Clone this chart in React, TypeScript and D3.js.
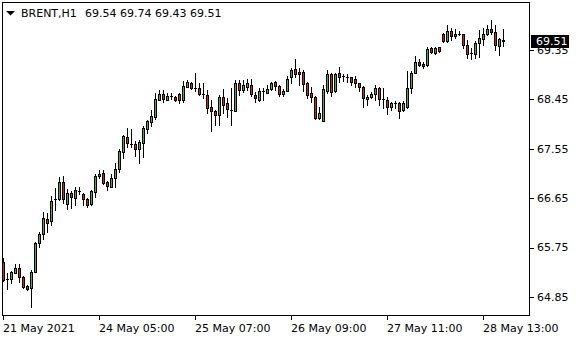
import React from "react";
import * as d3 from "d3";

const symbol = "BRENT,H1";
const opens = [65.48,65.18,65.18,65.29,65.38,65.21,65.05,65.01,65.31,65.83,66.00,66.27,66.23,66.64,66.64,66.95,66.54,66.74,66.65,66.78,66.73,66.64,66.54,66.76,67.05,67.11,66.94,66.86,67.01,67.18,67.49,67.77,67.64,67.63,67.54,67.65,67.91,68.04,68.13,68.44,68.54,68.44,68.52,68.50,68.54,68.44,68.68,68.74,68.65,68.65,68.54,68.53,68.31,68.24,68.17,68.49,68.38,68.26,68.24,68.74,68.63,68.68,68.72,68.53,68.44,68.60,68.57,68.64,68.76,68.69,68.54,68.61,68.85,69.00,68.95,68.95,68.74,68.56,68.50,68.12,68.06,68.60,68.91,68.60,68.93,68.88,68.86,68.85,68.83,68.74,68.68,68.45,68.50,68.54,68.66,68.46,68.44,68.32,68.39,68.39,68.26,68.32,68.66,68.94,69.14,69.09,69.08,69.38,69.29,69.40,69.65,69.51,69.70,69.61,69.65,69.64,69.45,69.29,69.27,69.47,69.55,69.65,69.73,69.68,69.43,69.54];
const highs = [65.56,65.29,65.32,65.45,65.45,65.23,65.07,65.34,65.86,66.04,66.39,66.38,66.69,66.84,67.04,67.05,66.82,66.79,66.86,66.86,66.75,66.65,66.80,67.09,67.16,67.16,66.97,67.09,67.29,67.54,67.80,67.92,67.91,67.70,67.71,67.97,68.07,68.26,68.56,68.63,68.62,68.56,68.56,68.51,68.56,68.79,68.80,68.76,68.94,68.74,68.75,68.62,68.44,68.26,68.53,68.64,68.48,68.65,68.80,68.80,68.80,68.83,68.83,68.59,68.66,68.66,68.72,68.77,68.79,68.72,68.64,68.88,69.02,69.19,69.02,68.99,68.76,68.68,68.52,68.31,68.72,68.99,68.93,68.93,69.04,68.91,68.91,68.86,68.88,68.75,68.70,68.53,68.58,68.71,68.68,68.65,68.50,68.41,68.42,68.41,68.42,68.97,68.97,69.24,69.19,69.14,69.41,69.40,69.40,69.41,69.66,69.81,69.75,69.73,69.70,69.65,69.53,69.38,69.51,69.71,69.75,69.81,69.90,69.81,69.56,69.74];
const lows = [65.14,65.00,65.11,65.28,65.12,65.01,64.98,64.67,65.30,65.76,65.91,66.03,66.16,66.43,66.62,66.56,66.45,66.47,66.53,66.73,66.53,66.49,66.53,66.68,67.02,66.91,66.80,66.85,66.86,67.13,67.39,67.59,67.59,67.42,67.29,67.40,67.84,67.97,68.09,68.43,68.40,68.43,68.46,68.42,68.38,68.40,68.67,68.64,68.61,68.53,68.47,68.20,67.87,67.98,67.98,68.20,68.13,67.98,68.23,68.53,68.58,68.62,68.51,68.41,68.42,68.44,68.56,68.63,68.63,68.52,68.51,68.60,68.74,68.86,68.72,68.60,68.48,68.41,68.09,68.09,68.05,68.57,68.52,68.58,68.77,68.79,68.76,68.72,68.67,68.61,68.32,68.34,68.47,68.44,68.34,68.30,68.18,68.26,68.29,68.12,68.23,68.30,68.56,68.93,69.05,69.02,69.06,69.30,69.28,69.32,69.50,69.50,69.53,69.57,69.62,69.38,69.20,69.18,69.20,69.23,69.44,69.62,69.64,69.35,69.26,69.43];
const closes = [65.16,65.17,65.31,65.38,65.21,65.03,65.00,65.31,65.84,66.00,66.29,66.20,66.60,66.64,66.95,66.64,66.74,66.67,66.80,66.78,66.64,66.53,66.78,67.05,67.09,66.93,66.88,67.01,67.19,67.51,67.79,67.65,67.64,67.55,67.67,67.92,68.06,68.15,68.45,68.54,68.46,68.52,68.52,68.43,68.44,68.69,68.76,68.66,68.65,68.54,68.54,68.29,68.23,68.17,68.49,68.35,68.27,68.26,68.74,68.63,68.71,68.74,68.54,68.47,68.60,68.60,68.64,68.75,68.70,68.54,68.60,68.83,68.99,68.91,68.91,68.73,68.53,68.49,68.12,68.21,68.64,68.91,68.59,68.91,68.86,68.88,68.86,68.77,68.74,68.68,68.47,68.50,68.55,68.66,68.45,68.46,68.32,68.38,68.39,68.24,68.38,68.66,68.93,69.13,69.08,69.06,69.37,69.31,69.39,69.34,69.51,69.70,69.61,69.65,69.65,69.44,69.27,69.29,69.47,69.57,69.65,69.73,69.67,69.44,69.55,69.51];

const yTicks = [69.35, 68.45, 67.55, 66.65, 65.75, 64.85];
const xTickIndex = [0, 24, 48, 72, 96, 120];
const xTickLabels = ["21 May 2021", "24 May 05:00", "25 May 07:00", "26 May 09:00", "27 May 11:00", "28 May 13:00"];

const W = 580, H = 340;
const left = 2.5, right = 529.5, top = 2.5, bottom = 315.5;
const FONT = "'DejaVu Sans', Verdana, sans-serif";
const UP = "#3cb043";
const DOWN = "#d42020";

export default function App() {
  const n = opens.length;
  const x = d3.scaleLinear().domain([0, n - 1]).range([3.5, 3.5 + 4 * (n - 1)]);
  const y = d3.scaleLinear().domain([64.85, 69.35]).range([297, 50]);
  const py = (v: number) => Math.round(y(v)) + 0.5;
  const last = closes[n - 1];
  const lastY = y(last);
  const hdr = [opens[n - 1], highs[n - 1], lows[n - 1], closes[n - 1]].map((v) => v.toFixed(2)).join(" ");

  return (
    <svg width={W} height={H} style={{ position: "absolute", left: 0, top: 0, background: "#fff" }} fontFamily={FONT}>
      <rect x={0} y={0} width={W} height={H} fill="#fff" />
      <g shapeRendering="crispEdges">
        {opens.map((o, i) => {
          const c = closes[i];
          const cx = x(i);
          const yh = py(highs[i]);
          const yl = py(lows[i]);
          const yt = py(Math.max(o, c));
          const yb = py(Math.min(o, c));
          return (
            <g key={i}>
              <line x1={cx} x2={cx} y1={yh - 0.5} y2={yl + 0.5} stroke="#000" strokeWidth={1} />
              {yb - yt < 1 ? (
                <line x1={cx - 1.5} x2={cx + 1.5} y1={yt} y2={yt} stroke="#000" strokeWidth={1} />
              ) : (
                <rect x={cx - 1} y={yt} width={2} height={yb - yt} fill={c >= o ? UP : DOWN} stroke="#000" strokeWidth={1} />
              )}
            </g>
          );
        })}
        <rect x={left} y={top} width={right - left} height={bottom - top} fill="none" stroke="#000" strokeWidth={1} />
        {yTicks.map((t) => (
          <line key={t} x1={right} x2={right + 4} y1={py(t)} y2={py(t)} stroke="#000" />
        ))}
        {xTickIndex.map((i) => (
          <line key={i} x1={x(i)} x2={x(i)} y1={bottom} y2={bottom + 4} stroke="#000" />
        ))}
      </g>
      {yTicks.map((t) => (
        <text key={t} x={537} y={y(t)} dy="0.35em" fontSize={11} fill="#000">
          {t.toFixed(2)}
        </text>
      ))}
      {xTickIndex.map((i, k) => (
        <text key={i} x={x(i) - 0.5} y={332} fontSize={11} fill="#000">
          {xTickLabels[k]}
        </text>
      ))}
      <rect x={531} y={Math.round(lastY) - 6} width={38} height={13} fill="#000" />
      <text x={536} y={lastY} dy="0.35em" fontSize={11} fill="#fff">
        {last.toFixed(2)}
      </text>
      <path d="M6,11 L15,11 L10.5,15.5 Z" fill="#000" />
      <text x={21} y={16.5} fontSize={11} fill="#000">{symbol}</text>
      <text x={85} y={16.5} fontSize={11} fill="#000">{hdr}</text>
    </svg>
  );
}
